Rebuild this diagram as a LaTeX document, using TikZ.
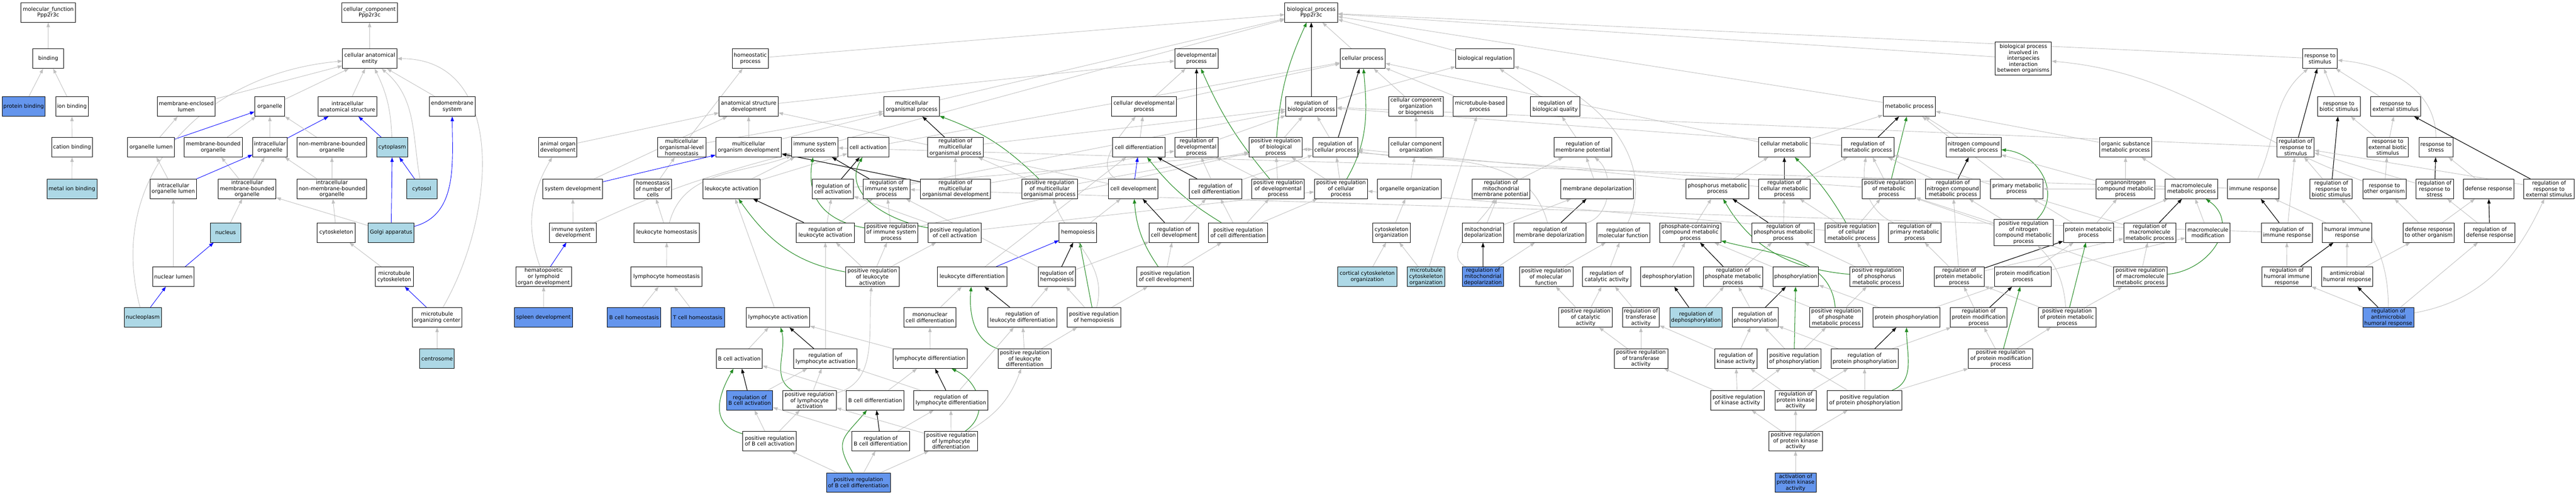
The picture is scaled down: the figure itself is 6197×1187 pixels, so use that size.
\documentclass[tikz,border=0pt]{standalone}
\usepackage{fontspec}
\setmainfont{DejaVu Sans}
\usetikzlibrary{arrows.meta}
\definecolor{edgegray}{RGB}{192,192,192}
\definecolor{cfblue}{RGB}{100,149,237}
\definecolor{ltblue}{RGB}{173,216,230}
\definecolor{fgreen}{RGB}{34,139,34}
\pgfdeclarelayer{bglayer}
\pgfdeclarelayer{edgelayer}
\pgfsetlayers{bglayer,edgelayer,main}
\tikzset{
  gobox/.style={draw=black,line width=1.2pt,rectangle,inner sep=1pt,minimum height=47pt,align=center,font=\fontsize{12.8pt}{14.4pt}\selectfont},
  isa/.style={draw=edgegray,line width=1.1pt,-{Triangle[length=11pt,width=8pt]}},
  partof/.style={draw=blue,line width=1.1pt,-{Triangle[length=11pt,width=8pt]}},
  regs/.style={draw=black,line width=1.4pt,-{Triangle[length=11pt,width=8pt]}},
  posregs/.style={draw=fgreen,line width=1.3pt,-{Triangle[length=11pt,width=8pt]}}
}
\newcommand{\GOnode}[6][white]{\node[gobox,fill=#1,minimum width=#5pt] (#2) at (#3pt,-#4pt) {#6};}
\newcommand{\Eisa}[2]{\draw[isa] (#1) -- (#2);}
\newcommand{\Epart}[2]{\draw[partof] (#1) -- (#2);}
\newcommand{\Ereg}[2]{\draw[regs] (#1) -- (#2);}
\newcommand{\Epos}[2]{\draw[posregs] (#1) -- (#2);}
\begin{document}
\begin{tikzpicture}
\useasboundingbox (0pt,0pt) rectangle (6197pt,-1187pt);
\begin{pgfonlayer}{bglayer}
\fill[white] (0pt,0pt) rectangle (6197pt,-1187pt);
\end{pgfonlayer}
% ---------- molecular function / cellular component
\GOnode{mf}{116}{30}{132}{molecular\_function\\Ppp2r3c}
\GOnode{binding}{116}{141}{74}{binding}
\GOnode[cfblue]{protbind}{57}{256}{104}{protein binding}
\GOnode{ionbind}{173}{256}{78}{ion binding}
\GOnode{catbind}{173.5}{354}{99}{cation binding}
\GOnode[ltblue]{metalbind}{173}{454}{120}{metal ion binding}
\GOnode{melumen}{448}{256}{140}{membrane-enclosed\\lumen}
\GOnode{orglumen}{363.5}{354}{113}{organelle lumen}
\GOnode{icorglumen}{417}{454}{112}{intracellular\\organelle lumen}
\GOnode{nuclumen}{417}{665}{100}{nuclear lumen}
\GOnode[ltblue]{nucleoplasm}{343.5}{763}{89}{nucleoplasm}
\GOnode{cc}{889}{30}{134}{cellular\_component\\Ppp2r3c}
\GOnode{cae}{889.5}{141}{131}{cellular anatomical\\entity}
\GOnode{organelle}{649}{256}{72}{organelle}
\GOnode{ias}{836}{256}{142}{intracellular\\anatomical structure}
\GOnode{mbo}{513}{354}{140}{membrane-bounded\\organelle}
\GOnode{icorg}{649.5}{354}{83}{intracellular\\organelle}
\GOnode{nmbo}{798.5}{354}{167}{non-membrane-bounded\\organelle}
\GOnode[ltblue]{cytoplasm}{943.5}{354}{75}{cytoplasm}
\GOnode{imbo}{594.5}{454}{139}{intracellular\\membrane-bounded\\organelle}
\GOnode{inmbo}{798.5}{454}{167}{intracellular\\non-membrane-bounded\\organelle}
\GOnode[ltblue]{cytosol}{1014.5}{454}{73}{cytosol}
\GOnode[ltblue]{nucleus}{542.5}{559}{73}{nucleus}
\GOnode{cytoskeleton}{809}{559}{92}{cytoskeleton}
\GOnode[ltblue]{golgi}{941}{559}{110}{Golgi apparatus}
\GOnode{mtcyto}{948.5}{665}{91}{microtubule\\cytoskeleton}
\GOnode{mtoc}{1051.5}{763}{119}{microtubule\\organizing center}
\GOnode[ltblue]{centrosome}{1051.5}{862}{83}{centrosome}
\GOnode{endomem}{1088}{256}{110}{endomembrane\\system}
% ---------- development / homeostasis / immune
\GOnode{aod}{1342}{354}{92}{animal organ\\development}
\GOnode{sysdev}{1378}{454}{144}{system development}
\GOnode{isd}{1378.5}{559}{113}{immune system\\development}
\GOnode{hlod}{1308}{665}{134}{hematopoietic\\or lymphoid\\organ development}
\GOnode[cfblue]{spleen}{1307.5}{763}{139}{spleen development}
\GOnode{homproc}{1805}{141}{86}{homeostatic\\process}
\GOnode{asd}{1801}{256}{142}{anatomical structure\\development}
\GOnode{mlh}{1640}{354}{116}{multicellular\\organismal-level\\homeostasis}
\GOnode{mod}{1801}{354}{158}{multicellular\\organism development}
\GOnode{isp}{1960}{354}{112}{immune system\\process}
\GOnode{cellact}{2088.5}{354}{99}{cell activation}
\GOnode{honc}{1570.5}{454}{91}{homeostasis\\of number of\\cells}
\GOnode{leukact}{1760}{454}{138}{leukocyte activation}
\GOnode{regcellact}{2003.5}{454}{99}{regulation of\\cell activation}
\GOnode{leukhom}{1604}{559}{158}{leukocyte homeostasis}
\GOnode{regleukact}{1985.5}{559}{139}{regulation of\\leukocyte activation}
\GOnode{lymphhom}{1603.5}{665}{171}{lymphocyte homeostasis}
\GOnode{posregleukact}{2098.5}{665}{129}{positive regulation\\of leukocyte\\activation}
\GOnode[cfblue]{bcellhom}{1525.5}{763}{129}{B cell homeostasis}
\GOnode[cfblue]{tcellhom}{1678.5}{763}{129}{T cell homeostasis}
\GOnode{lymphact}{1871.5}{763}{153}{lymphocyte activation}
\GOnode{bcellact}{1778.5}{862}{111}{B cell activation}
\GOnode{reglymphact}{1985.5}{862}{153}{regulation of\\lymphocyte activation}
\GOnode[cfblue]{regbcellact}{1803.5}{962}{111}{regulation of\\B cell activation}
\GOnode{posreglymphact}{1947.5}{962}{129}{positive regulation\\of lymphocyte\\activation}
\GOnode{bcelldiff}{2105.5}{962}{139}{B cell differentiation}
\GOnode{posregbcellact}{1851.5}{1060}{129}{positive regulation\\of B cell activation}
\GOnode{regbcelldiff}{2118.5}{1060}{139}{regulation of\\B cell differentiation}
\GOnode[cfblue]{posregbcelldiff}{2065}{1160}{154}{positive regulation\\of B cell differentiation}
\GOnode{mop}{2193}{256}{134}{multicellular\\organismal process}
\GOnode{regmop}{2298.5}{354}{133}{regulation of\\multicellular\\organismal process}
\GOnode{regisp}{2133}{454}{112}{regulation of\\immune system\\process}
\GOnode{regmod}{2298.5}{454}{169}{regulation of\\multicellular\\organismal development}
\GOnode{posregmop}{2525}{454}{134}{positive regulation\\of multicellular\\organismal process}
\GOnode{posregisp}{2144}{559}{128}{positive regulation\\of immune system\\process}
\GOnode{posregcellact}{2297}{559}{128}{positive regulation\\of cell activation}
\GOnode{hemopoiesis}{2593}{559}{90}{hemopoiesis}
\GOnode{leukdiff}{2338.5}{665}{167}{leukocyte differentiation}
\GOnode{reghemo}{2542.5}{665}{89}{regulation of\\hemopoiesis}
\GOnode{mncd}{2237}{763}{126}{mononuclear\\cell differentiation}
\GOnode{regleukdiff}{2459.5}{763}{167}{regulation of\\leukocyte differentiation}
\GOnode{posreghemo}{2631.5}{763}{129}{positive regulation\\of hemopoiesis}
\GOnode{lymphdiff}{2237.5}{862}{179}{lymphocyte differentiation}
\GOnode{posregleukdiff}{2465}{862}{128}{positive regulation\\of leukocyte\\differentiation}
\GOnode{reglymphdiff}{2287.5}{962}{179}{regulation of\\lymphocyte differentiation}
\GOnode{posreglymphdiff}{2288}{1060}{128}{positive regulation\\of lymphocyte\\differentiation}
\GOnode{devproc}{2878.5}{141}{105}{developmental\\process}
\GOnode{cdp}{2752}{256}{156}{cellular developmental\\process}
\GOnode{celldiff}{2740}{354}{126}{cell differentiation}
\GOnode{regdevproc}{2878.5}{354}{105}{regulation of\\developmental\\process}
\GOnode{posregbp}{3069}{354}{128}{positive regulation\\of biological\\process}
\GOnode{celldev}{2726.5}{454}{119}{cell development}
\GOnode{regcelldiff}{2924}{454}{126}{regulation of\\cell differentiation}
\GOnode{posregdevproc}{3074.5}{454}{127}{positive regulation\\of developmental\\process}
\GOnode{regcelldev}{2824}{559}{118}{regulation of\\cell development}
\GOnode{posregcelldiff}{2978.5}{559}{143}{positive regulation\\of cell differentiation}
\GOnode{posregcelldev}{2803}{665}{136}{positive regulation\\of cell development}
% ---------- biological process core
\GOnode{bp}{3154.5}{30}{127}{biological\_process\\Ppp2r3c}
\GOnode{cellproc}{3278}{141}{108}{cellular process}
\GOnode{bioreg}{3572}{141}{140}{biological regulation}
\GOnode{regbp}{3154.5}{256}{123}{regulation of\\biological process}
\GOnode{ccob}{3406.5}{256}{131}{cellular component\\organization\\or biogenesis}
\GOnode{mtbp}{3560}{256}{128}{microtubule-based\\process}
\GOnode{regcellproc}{3212}{354}{108}{regulation of\\cellular process}
\GOnode{cco}{3406.5}{354}{131}{cellular component\\organization}
\GOnode{posregcellproc}{3226}{454}{128}{positive regulation\\of cellular\\process}
\GOnode{orgorg}{3390.5}{454}{153}{organelle organization}
\GOnode{regmmp}{3610.5}{454}{139}{regulation of\\mitochondrial\\membrane potential}
\GOnode{cytoorg}{3347.5}{559}{91}{cytoskeleton\\organization}
\GOnode{mitodep}{3567.5}{559}{99}{mitochondrial\\depolarization}
\GOnode[ltblue]{ccorg}{3289}{665}{142}{cortical cytoskeleton\\organization}
\GOnode[ltblue]{mtcorg}{3430.5}{665}{91}{microtubule\\cytoskeleton\\organization}
\GOnode[cfblue]{regmitodep}{3567.5}{665}{99}{regulation of\\mitochondrial\\depolarization}
\GOnode{regbq}{3741}{256}{118}{regulation of\\biological quality}
\GOnode{regmp}{3807.5}{354}{139}{regulation of\\membrane potential}
\GOnode{memdep}{3842.5}{454}{175}{membrane depolarization}
\GOnode{phosmp}{4131.5}{454}{151}{phosphorus metabolic\\process}
\GOnode{regmemdep}{3729}{559}{174}{regulation of\\membrane depolarization}
\GOnode{regmf}{3905}{559}{128}{regulation of\\molecular function}
\GOnode{pcmp}{4066.5}{559}{147}{phosphate-containing\\compound metabolic\\process}
\GOnode{posregmf}{3719.5}{665}{129}{positive regulation\\of molecular\\function}
\GOnode{regcatact}{3865}{665}{116}{regulation of\\catalytic activity}
\GOnode{dephos}{4010.5}{665}{127}{dephosphorylation}
\GOnode{regpmp}{4169}{665}{142}{regulation of\\phosphate metabolic\\process}
\GOnode{posregcatact}{3814.5}{763}{129}{positive regulation\\of catalytic\\activity}
\GOnode{regtransact}{3947.5}{763}{89}{regulation of\\transferase\\activity}
\GOnode[ltblue]{regdephos}{4080}{763}{126}{regulation of\\dephosphorylation}
\GOnode{posregtransact}{3947.5}{862}{129}{positive regulation\\of transferase\\activity}
% ---------- metabolism
\GOnode{metproc}{4593}{256}{126}{metabolic process}
\GOnode{cmp}{4292.5}{354}{123}{cellular metabolic\\process}
\GOnode{regmetproc}{4493}{354}{126}{regulation of\\metabolic process}
\GOnode{regcmp}{4292.5}{454}{123}{regulation of\\cellular metabolic\\process}
\GOnode{posregmetproc}{4544}{454}{128}{positive regulation\\of metabolic\\process}
\GOnode{regphosmp}{4290}{559}{150}{regulation of\\phosphorus metabolic\\process}
\GOnode{posregcmp}{4454.5}{559}{129}{positive regulation\\of cellular\\metabolic process}
\GOnode{regprimmp}{4606}{559}{126}{regulation of\\primary metabolic\\process}
\GOnode{phosph}{4320}{665}{110}{phosphorylation}
\GOnode{posregphosmp}{4514.5}{665}{129}{positive regulation\\of phosphorus\\metabolic process}
\GOnode{regphos}{4222.5}{763}{111}{regulation of\\phosphorylation}
\GOnode{posregpmp}{4417}{763}{128}{positive regulation\\of phosphate\\metabolic process}
\GOnode{protphos}{4586.5}{763}{161}{protein phosphorylation}
\GOnode{regkinact}{4176}{862}{102}{regulation of\\kinase activity}
\GOnode{posregphos}{4316}{862}{128}{positive regulation\\of phosphorylation}
\GOnode{regprotphos}{4485.5}{862}{161}{regulation of\\protein phosphorylation}
\GOnode{posregkinact}{4179.5}{962}{129}{positive regulation\\of kinase activity}
\GOnode{regpka}{4319.5}{962}{99}{regulation of\\protein kinase\\activity}
\GOnode{posregprotphos}{4485.5}{962}{179}{positive regulation\\of protein phosphorylation}
\GOnode{posregpka}{4319.5}{1060}{129}{positive regulation\\of protein kinase\\activity}
\GOnode[cfblue]{actpka}{4319.5}{1160}{99}{activation of\\protein kinase\\activity}
\node[gobox,fill=white,minimum width=135pt,minimum height=79pt] (bpiio) at (4867.5pt,-141pt) {biological process\\involved in\\interspecies\\interaction\\between organisms};
\GOnode{ncmp}{4748}{354}{132}{nitrogen compound\\metabolic process}
\GOnode{osmp}{5113.5}{354}{125}{organic substance\\metabolic process}
\GOnode{regncmp}{4698}{454}{132}{regulation of\\nitrogen compound\\metabolic process}
\GOnode{primmp}{4851.5}{454}{127}{primary metabolic\\process}
\GOnode{oncmp}{5113}{454}{142}{organonitrogen\\compound metabolic\\process}
\node[gobox,fill=white,minimum width=142pt,minimum height=63pt] (posregncmp) at (4868pt,-559pt) {positive regulation\\of nitrogen\\compound metabolic\\process};
\GOnode{protmp}{5024}{559}{120}{protein metabolic\\process}
\GOnode{regmacmp}{5171.5}{559}{125}{regulation of\\macromolecule\\metabolic process}
\GOnode{regprotmp}{4713}{665}{120}{regulation of\\protein metabolic\\process}
\GOnode{protmodproc}{4866.5}{665}{137}{protein modification\\process}
\GOnode{posregmacmp}{5149}{665}{128}{positive regulation\\of macromolecule\\metabolic process}
\GOnode{regprotmod}{4760}{763}{136}{regulation of\\protein modification\\process}
\GOnode{posregprotmp}{4972.5}{763}{139}{positive regulation\\of protein metabolic\\process}
\GOnode{posregprotmod}{4813}{862}{155}{positive regulation\\of protein modification\\process}
% ---------- response
\GOnode{respstim}{5581}{141}{84}{response to\\stimulus}
\GOnode{resbio}{5626.5}{256}{103}{response to\\biotic stimulus}
\GOnode{regrespstim}{5522.5}{354}{89}{regulation of\\response to\\stimulus}
\GOnode{macmp}{5272}{454}{126}{macromolecule\\metabolic process}
\GOnode{immresp}{5420}{454}{124}{immune response}
\GOnode{regrbs}{5608}{454}{102}{regulation of\\response to\\biotic stimulus}
\GOnode{macmod}{5311.5}{559}{107}{macromolecule\\modification}
\GOnode{regimmresp}{5501.5}{559}{123}{regulation of\\immune response}
\GOnode{humimm}{5646.5}{559}{119}{humoral immune\\response}
\GOnode{reghumimm}{5501}{665}{118}{regulation of\\humoral immune\\response}
\GOnode{amhr}{5646.5}{665}{123}{antimicrobial\\humoral response}
\GOnode{resext}{5763}{256}{120}{response to\\external stimulus}
\GOnode{resextbio}{5744}{354}{100}{response to\\external biotic\\stimulus}
\GOnode{resstress}{5860}{354}{82}{response to\\stress}
\GOnode{resother}{5736}{454}{104}{response to\\other organism}
\GOnode{regresstress}{5857}{454}{90}{regulation of\\response to\\stress}
\GOnode{defresp}{5986.5}{454}{121}{defense response}
\GOnode{regrespext}{6132}{454}{122}{regulation of\\response to\\external stimulus}
\GOnode{defother}{5842.5}{559}{123}{defense response\\to other organism}
\GOnode{regdef}{5989.5}{559}{121}{regulation of\\defense response}
\GOnode[cfblue]{regamhr}{5745.5}{763}{123}{regulation of\\antimicrobial\\humoral response}
% ================= EDGES
\begin{pgfonlayer}{edgelayer}
\Eisa{binding}{mf}
\Eisa{protbind}{binding}
\Eisa{ionbind}{binding}
\Eisa{catbind}{ionbind}
\Eisa{metalbind}{catbind}
\Eisa{cae}{cc}
\Eisa{organelle}{cae}
\Eisa{ias}{cae}
\Eisa{melumen}{cae}
\Eisa{endomem}{cae}
\draw[isa] (cytoplasm) to[bend right=12] (cae);
\Epart{cytoplasm}{ias}
\draw[isa] (cytosol) to[out=100,in=-40] (cae);
\Epart{cytosol}{cytoplasm}
\draw[isa] (mtoc) to[out=60,in=0,looseness=1.1] (cae);
\Epart{mtoc}{mtcyto}
\Eisa{centrosome}{mtoc}
\Eisa{mbo}{organelle}
\Eisa{icorg}{organelle}
\Epart{icorg}{ias}
\Eisa{nmbo}{organelle}
\Eisa{imbo}{mbo}
\Eisa{imbo}{icorg}
\Eisa{inmbo}{nmbo}
\Eisa{inmbo}{icorg}
\Eisa{nucleus}{imbo}
\Eisa{cytoskeleton}{inmbo}
\Eisa{mtcyto}{cytoskeleton}
\Eisa{golgi}{imbo}
\Epart{golgi}{cytoplasm}
\draw[partof] (golgi) to[out=15,in=-90] (endomem);
\Eisa{orglumen}{melumen}
\Epart{orglumen}{organelle}
\Eisa{icorglumen}{orglumen}
\Epart{icorglumen}{icorg}
\Eisa{nuclumen}{icorglumen}
\Epart{nuclumen}{nucleus}
\Epart{nucleoplasm}{nuclumen}
\draw[isa] (nucleoplasm) to[out=105,in=185,looseness=1.1] (cae);
% development
\Eisa{homproc}{bp}
\Eisa{mlh}{homproc}
\Eisa{mlh}{mop}
\Eisa{honc}{mlh}
\Eisa{leukhom}{honc}
\draw[isa] (leukhom) to[out=75,in=-160] (isp);
\Eisa{lymphhom}{leukhom}
\Eisa{bcellhom}{lymphhom}
\Eisa{tcellhom}{lymphhom}
\Eisa{asd}{devproc}
\Eisa{mod}{asd}
\Eisa{mod}{mop}
\Eisa{sysdev}{asd}
\Epart{sysdev}{mod}
\Eisa{aod}{asd}
\Eisa{isd}{sysdev}
\draw[isa] (isd) to[out=25,in=-165] (isp);
\draw[isa] (hlod) to[out=110,in=-120] (aod);
\Epart{hlod}{isd}
\Eisa{spleen}{hlod}
\Eisa{celldev}{asd}
% immune
\Eisa{isp}{bp}
\Eisa{cellact}{cellproc}
\Eisa{leukact}{cellact}
\Eisa{leukact}{isp}
\Eisa{lymphact}{leukact}
\Eisa{bcellact}{lymphact}
\Ereg{regcellact}{cellact}
\Eisa{regcellact}{regcellproc}
\Ereg{regleukact}{leukact}
\Eisa{regleukact}{regcellact}
\Eisa{regleukact}{regisp}
\Eisa{posregleukact}{regleukact}
\draw[posregs] (posregleukact) to[out=170,in=-55] (leukact);
\Eisa{posregleukact}{posregcellact}
\Eisa{posregleukact}{posregisp}
\Ereg{reglymphact}{lymphact}
\Eisa{reglymphact}{regleukact}
\Eisa{posreglymphact}{reglymphact}
\draw[posregs] (posreglymphact) to[out=150,in=-75] (lymphact);
\draw[isa] (posreglymphact) to[out=15,in=-95] (posregleukact);
\Ereg{regbcellact}{bcellact}
\Eisa{regbcellact}{reglymphact}
\Eisa{posregbcellact}{regbcellact}
\draw[posregs] (posregbcellact) to[out=165,in=-120,looseness=1.3] (bcellact);
\Eisa{posregbcellact}{posreglymphact}
\Eisa{bcelldiff}{bcellact}
\Eisa{bcelldiff}{lymphdiff}
\Ereg{regbcelldiff}{bcelldiff}
\Eisa{regbcelldiff}{reglymphdiff}
\Eisa{regbcelldiff}{regbcellact}
\Eisa{posregbcelldiff}{regbcelldiff}
\draw[posregs] (posregbcelldiff) to[out=120,in=-130,looseness=1.5] (bcelldiff);
\Eisa{posregbcelldiff}{posregbcellact}
\Eisa{posregbcelldiff}{posreglymphdiff}
\Eisa{mop}{bp}
\Ereg{regmop}{mop}
\draw[posregs] (posregmop) to[bend right=12] (mop);
\Eisa{regmop}{regbp}
\Eisa{regmod}{regmop}
\Ereg{regmod}{mod}
\Eisa{regmod}{regdevproc}
\Eisa{posregmop}{regmop}
\Eisa{posregmop}{posregbp}
\Ereg{regisp}{isp}
\Eisa{regisp}{regbp}
\Eisa{posregisp}{regisp}
\draw[posregs] (posregisp) to[out=170,in=-100,looseness=1.2] (isp);
\Eisa{posregisp}{posregbp}
\Eisa{posregcellact}{regcellact}
\draw[posregs] (posregcellact) to[out=170,in=-120,looseness=1.1] (cellact);
\Eisa{posregcellact}{posregcellproc}
\Epart{leukdiff}{hemopoiesis}
\Eisa{leukdiff}{celldiff}
\Eisa{mncd}{leukdiff}
\Eisa{lymphdiff}{mncd}
\Eisa{lymphdiff}{lymphact}
\Ereg{regleukdiff}{leukdiff}
\Eisa{regleukdiff}{reghemo}
\Eisa{posregleukdiff}{regleukdiff}
\draw[posregs] (posregleukdiff) to[out=160,in=-95] (leukdiff);
\Eisa{posregleukdiff}{posreghemo}
\Ereg{reglymphdiff}{lymphdiff}
\Eisa{reglymphdiff}{regleukdiff}
\Eisa{reglymphdiff}{reglymphact}
\Eisa{posreglymphdiff}{reglymphdiff}
\draw[posregs] (posreglymphdiff) to[out=35,in=-25,looseness=1.2] (lymphdiff);
\draw[isa] (posreglymphdiff) to[out=30,in=-110] (posregleukdiff);
\Eisa{posreglymphdiff}{posreglymphact}
\Ereg{reghemo}{hemopoiesis}
\Eisa{reghemo}{regisp}
\Eisa{reghemo}{regcelldev}
\Epos{posreghemo}{hemopoiesis}
\Eisa{posreghemo}{reghemo}
\Eisa{posreghemo}{posregcelldev}
\draw[isa] (posreghemo) to[out=75,in=-70] (posregmop);
\Eisa{hemopoiesis}{celldev}
% cell development
\Eisa{cdp}{devproc}
\Eisa{cdp}{cellproc}
\Eisa{celldiff}{cdp}
\Epart{celldev}{celldiff}
\draw[isa] (celldev) to[out=150,in=-130] (cdp);
\Ereg{regdevproc}{devproc}
\draw[posregs] (posregdevproc) to[bend left=8] (devproc);
\Eisa{regdevproc}{regbp}
\Eisa{posregdevproc}{regdevproc}
\Eisa{posregdevproc}{posregbp}
\Ereg{regcelldiff}{celldiff}
\Eisa{regcelldiff}{regdevproc}
\Eisa{regcelldiff}{regcellproc}
\Eisa{posregcelldiff}{regcelldiff}
\Eisa{posregcelldiff}{posregdevproc}
\draw[posregs] (posregcelldiff) to[bend left=10] (celldiff);
\Eisa{posregcelldiff}{posregcellproc}
\Ereg{regcelldev}{celldev}
\Eisa{regcelldev}{regcelldiff}
\Eisa{posregcelldev}{regcelldev}
\draw[posregs] (posregcelldev) to[bend left=15] (celldev);
\Eisa{posregcelldev}{posregcelldiff}
% bp core
\Ereg{regbp}{bp}
\draw[posregs] (posregbp) to[bend left=10] (bp);
\Eisa{posregbp}{regbp}
\Eisa{cellproc}{bp}
\Eisa{bioreg}{bp}
\Eisa{regbp}{bioreg}
\Eisa{ccob}{cellproc}
\Ereg{regcellproc}{cellproc}
\draw[posregs] (posregcellproc) to[out=60,in=-85] (cellproc);
\Eisa{regcellproc}{regbp}
\Eisa{posregcellproc}{regcellproc}
\Eisa{posregcellproc}{posregbp}
\Eisa{cco}{ccob}
\Eisa{orgorg}{cco}
\Eisa{cytoorg}{orgorg}
\Eisa{ccorg}{cytoorg}
\Eisa{mtcorg}{cytoorg}
\Eisa{mtcorg}{mtbp}
\Eisa{mtbp}{cellproc}
\Eisa{cmp}{cellproc}
\Eisa{regbq}{bioreg}
\Eisa{regmp}{regbq}
\Eisa{memdep}{regmp}
\Eisa{regmmp}{regmp}
\draw[isa] (regmemdep) to[out=15,in=-40] (regmp);
\Ereg{regmemdep}{memdep}
\draw[isa] (regmemdep) to[out=105,in=-10] (regcellproc);
\Eisa{mitodep}{memdep}
\Eisa{mitodep}{regmmp}
\Ereg{regmitodep}{mitodep}
\draw[isa] (regmitodep) to[out=150,in=-120] (regmmp);
\Eisa{regmitodep}{regmemdep}
\draw[isa] (regmf) to[out=65,in=-15] (bioreg);
\Eisa{regcatact}{regmf}
\Eisa{posregmf}{regmf}
\Eisa{posregcatact}{regcatact}
\Eisa{posregcatact}{posregmf}
\Eisa{regtransact}{regcatact}
\Eisa{posregtransact}{regtransact}
\Eisa{posregtransact}{posregcatact}
% metabolism
\Eisa{metproc}{bp}
\Eisa{cmp}{metproc}
\Ereg{regmetproc}{metproc}
\Eisa{regmetproc}{regbp}
\Epos{posregmetproc}{metproc}
\Eisa{posregmetproc}{regmetproc}
\Eisa{posregmetproc}{posregbp}
\Ereg{regcmp}{cmp}
\Eisa{regcmp}{regmetproc}
\Eisa{regcmp}{regcellproc}
\draw[posregs] (posregcmp) to[bend right=8] (cmp);
\Eisa{posregcmp}{regcmp}
\Eisa{posregcmp}{posregmetproc}
\Eisa{posregcmp}{posregcellproc}
\Eisa{phosmp}{cmp}
\Eisa{pcmp}{phosmp}
\Ereg{regphosmp}{phosmp}
\Eisa{regphosmp}{regcmp}
\Eisa{posregphosmp}{regphosmp}
\draw[posregs] (posregphosmp) to[out=175,in=-60] (phosmp);
\Eisa{posregphosmp}{posregcmp}
\Eisa{dephos}{pcmp}
\Ereg{regdephos}{dephos}
\Eisa{regdephos}{regpmp}
\Ereg{regpmp}{pcmp}
\Eisa{regpmp}{regphosmp}
\Eisa{phosph}{pcmp}
\Ereg{regphos}{phosph}
\Eisa{regphos}{regpmp}
\Eisa{posregpmp}{regpmp}
\Eisa{posregpmp}{posregphosmp}
\draw[posregs] (posregpmp) to[out=95,in=-15] (pcmp);
\Eisa{protphos}{phosph}
\Eisa{protphos}{protmodproc}
\Eisa{regkinact}{regtransact}
\Eisa{regkinact}{regphos}
\Epos{posregphos}{phosph}
\Eisa{posregphos}{regphos}
\Eisa{posregphos}{posregpmp}
\Ereg{regprotphos}{protphos}
\Eisa{regprotphos}{regphos}
\Eisa{regprotphos}{regprotmod}
\Eisa{posregkinact}{regkinact}
\Eisa{posregkinact}{posregphos}
\Eisa{posregkinact}{posregtransact}
\Eisa{regpka}{regkinact}
\Eisa{regpka}{regprotphos}
\Eisa{posregprotphos}{regprotphos}
\draw[posregs] (posregprotphos) to[out=20,in=-90] (protphos);
\Eisa{posregprotphos}{posregphos}
\Eisa{posregprotphos}{posregprotmod}
\Eisa{posregpka}{posregkinact}
\Eisa{posregpka}{regpka}
\Eisa{posregpka}{posregprotphos}
\Eisa{actpka}{posregpka}
\Eisa{bpiio}{bp}
\Eisa{ncmp}{metproc}
\Ereg{regncmp}{ncmp}
\Eisa{regncmp}{regmetproc}
\Eisa{primmp}{metproc}
\draw[isa] (regprimmp) to[out=155,in=-100] (regmetproc);
\draw[posregs] (posregncmp) to[out=45,in=-5,looseness=1.2] (ncmp);
\Eisa{posregncmp}{regncmp}
\Eisa{posregncmp}{posregmetproc}
\Eisa{protmp}{primmp}
\Eisa{protmp}{oncmp}
\Eisa{protmp}{macmp}
\Ereg{regprotmp}{protmp}
\Eisa{regprotmp}{regncmp}
\Eisa{regprotmp}{regprimmp}
\Eisa{regprotmp}{regmacmp}
\Eisa{protmodproc}{protmp}
\Eisa{protmodproc}{macmod}
\draw[posregs] (posregmacmp) to[out=5,in=-35,looseness=1.3] (macmp);
\Eisa{posregmacmp}{regmacmp}
\Eisa{posregmacmp}{posregmetproc}
\Ereg{regprotmod}{protmodproc}
\Eisa{regprotmod}{regprotmp}
\Epos{posregprotmp}{protmp}
\Eisa{posregprotmp}{regprotmp}
\Eisa{posregprotmp}{posregmacmp}
\draw[isa] (posregprotmp) to[bend right=20] (posregncmp);
\Eisa{posregprotmod}{regprotmod}
\Epos{posregprotmod}{protmodproc}
\Eisa{posregprotmod}{posregprotmp}
\Eisa{oncmp}{osmp}
\Eisa{oncmp}{ncmp}
\Eisa{osmp}{metproc}
\Eisa{macmp}{osmp}
\Eisa{macmp}{primmp}
\Ereg{regmacmp}{macmp}
\Eisa{regmacmp}{regmetproc}
\Eisa{macmod}{macmp}
% response
\Eisa{respstim}{bp}
\draw[isa] (immresp) to[out=65,in=-140] (respstim);
\Eisa{immresp}{isp}
\Ereg{regimmresp}{immresp}
\Eisa{regimmresp}{regrespstim}
\Eisa{regimmresp}{regisp}
\Eisa{humimm}{immresp}
\Eisa{reghumimm}{regimmresp}
\Ereg{reghumimm}{humimm}
\Eisa{amhr}{humimm}
\Eisa{amhr}{defother}
\Ereg{regamhr}{amhr}
\Eisa{regamhr}{reghumimm}
\Eisa{regamhr}{regdef}
\draw[isa] (regamhr) to[out=10,in=-115] (regrespext);
\draw[isa] (regamhr) to[out=90,in=-45] (regrbs);
\Eisa{resbio}{respstim}
\Eisa{resext}{respstim}
\draw[isa] (resstress) to[out=90,in=-5] (respstim);
\Ereg{regrespstim}{respstim}
\Eisa{regrespstim}{regbp}
\Ereg{regrbs}{resbio}
\Eisa{regrbs}{regrespstim}
\Eisa{resextbio}{resext}
\Eisa{resextbio}{resbio}
\Eisa{resother}{resextbio}
\draw[isa] (resother) to[out=160,in=-5] (bpiio);
\Ereg{regresstress}{resstress}
\Eisa{regresstress}{regrespstim}
\Eisa{defresp}{resstress}
\Ereg{regrespext}{resext}
\Eisa{regrespext}{regrespstim}
\Eisa{defother}{resother}
\Eisa{defother}{defresp}
\Ereg{regdef}{defresp}
\Eisa{regdef}{regresstress}
\end{pgfonlayer}
\end{tikzpicture}
\end{document}
